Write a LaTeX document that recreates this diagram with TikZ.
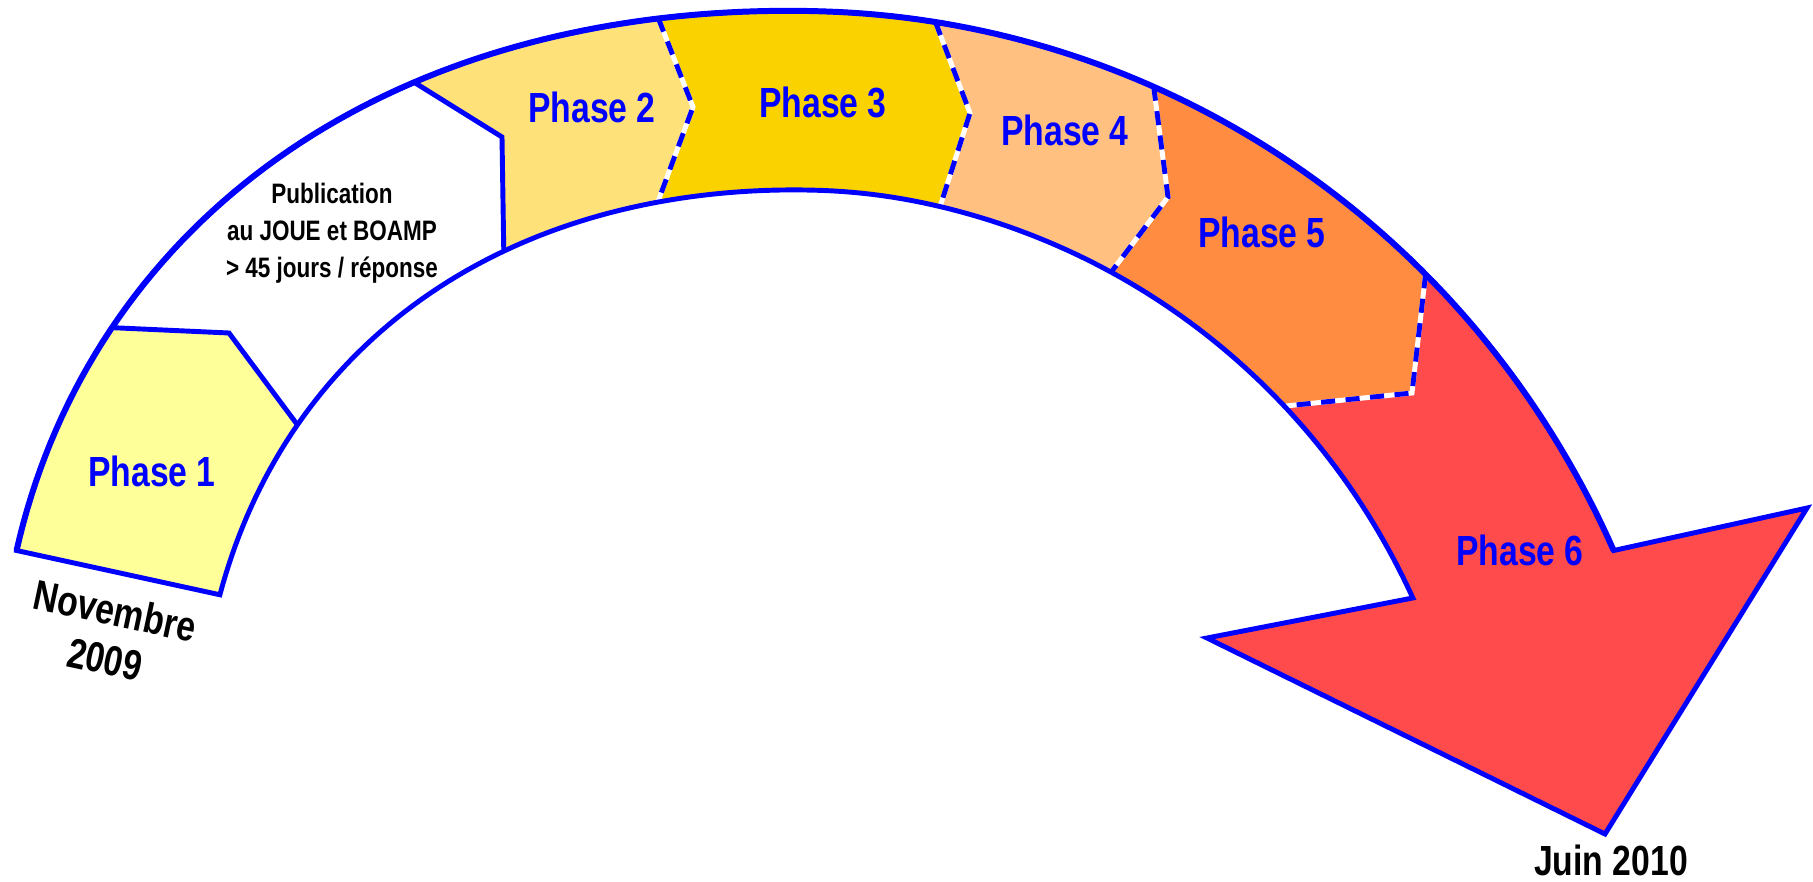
\documentclass[tikz,border=0pt]{standalone}
\usepackage{fontspec}
\setmainfont{Liberation Sans}[FakeStretch=0.8]
\newfontfamily\datefont{Liberation Sans}
\usetikzlibrary{calc}
\definecolor{phaseone}{RGB}{255,255,153}
\definecolor{phasetwo}{RGB}{255,225,122}
\definecolor{phasethree}{RGB}{250,210,0}
\definecolor{phasefour}{RGB}{255,192,128}
\definecolor{phasefive}{RGB}{255,140,64}
\definecolor{phasesix}{RGB}{255,75,75}
\definecolor{edgeblue}{RGB}{0,0,255}

% outer arc, then the whole outline of the curved arrow
\newcommand\outerarc{plot[domain=163:16.4, samples=150, variable=\a] ({800+rout(\a)*cos(\a)}, {790-rout(\a)*sin(\a)})}
\newcommand\bandpath{\outerarc -- (1807,508) -- (1605,834) -- (1207,638) -- plot[domain=17.4:161.4, samples=150, variable=\a] ({800+rin(\a)*cos(\a)}, {790-rin(\a)*sin(\a)}) -- cycle}

\begin{document}
\begin{tikzpicture}[x=0.02cm, y=-0.02cm,
    declare function={
        rout(\a) = (\a>88) ? (779+50*pow(sin(1.55*(\a-88)),2)) : (779+0.0135*pow(88-\a,2));
        rin(\a) = (\a>88) ? (600+22*pow(sin(1.8*(\a-88)),2)) : ((\a<78) ? (600+0.0115*pow(78-\a,2)) : 600);
    },
    phase/.style={font=\fontsize{24}{28}\selectfont\bfseries, text=edgeblue},
    datelabel/.style={font=\fontsize{24}{28}\selectfont\bfseries, align=center},
    note/.style={font=\fontsize{16}{21}\selectfont\bfseries, align=center},
    edge/.style={draw=edgeblue, line width=2.8pt, line join=miter},
    rim/.style={draw=edgeblue, line width=3.4pt},
    split/.style={edgeblue, line width=2.8pt, dash pattern=on 8pt off 6pt},
    splitback/.style={white, line width=2.8pt}
]
    \useasboundingbox (0,0) rectangle (1813,882);

    % Key points: where the borders meet the outer (o) and inner (i) arcs
    \coordinate (ctr) at (800,790);
    \foreach \n/\ao/\ai in {1/146.1/144, 2/118.6/118.8, 3/100.4/103.6, 4/80/76.5, 5/63.3/59, 6/39.5/38.4} {
        \coordinate (o\n) at ({800+rout(\ao)*cos(\ao)}, {790-rout(\ao)*sin(\ao)});
        \coordinate (i\n) at ({800+rin(\ai)*cos(\ai)}, {790-rin(\ai)*sin(\ai)});
    }
    \coordinate (m1) at (229,333);
    \coordinate (m2) at (502,137);
    \coordinate (m3) at (693,107);
    \coordinate (m4) at (970,113);
    \coordinate (m5) at (1168,197);
    \coordinate (m6) at (1412,393);

    % Colour of each phase
    \begin{scope}
        \clip \bandpath;
        \fill[phasesix] (0,0) rectangle (1813,882);
        \fill[phasefive] (ctr) -- (i6) -- (m6) -- (o6) -- ($(ctr)!1.5!(o6)$) -- ($(ctr)!1.5!(o5)$) -- (o5) -- (m5) -- (i5) -- cycle;
        \fill[phasefour] (ctr) -- (i5) -- (m5) -- (o5) -- ($(ctr)!1.5!(o5)$) -- ($(ctr)!1.5!(o4)$) -- (o4) -- (m4) -- (i4) -- cycle;
        \fill[phasethree] (ctr) -- (i4) -- (m4) -- (o4) -- ($(ctr)!1.5!(o4)$) -- ($(ctr)!1.5!(o3)$) -- (o3) -- (m3) -- (i3) -- cycle;
        \fill[phasetwo] (ctr) -- (i3) -- (m3) -- (o3) -- ($(ctr)!1.5!(o3)$) -- ($(ctr)!1.5!(o2)$) -- (o2) -- (m2) -- (i2) -- cycle;
        \fill[white] (ctr) -- (i2) -- (m2) -- (o2) -- ($(ctr)!1.5!(o2)$) -- ($(ctr)!1.5!(o1)$) -- (o1) -- (m1) -- (i1) -- cycle;
        \fill[phaseone] (ctr) -- (i1) -- (m1) -- (o1) -- ($(ctr)!1.5!(o1)$) -- (-300,300) -- (-300,900) -- cycle;
    \end{scope}

    % Borders between phases
    \draw[edge] (o1) -- (m1) -- (i1);
    \draw[edge] (o2) -- (m2) -- (i2);
    \foreach \k in {3,...,6} {
        \draw[splitback] (o\k) -- (m\k) -- (i\k);
        \draw[split] (o\k) -- (m\k) -- (i\k);
    }
    \draw[edge] \bandpath;
    \draw[rim] \outerarc;

    % Labels
    \node[phase] (p1) at (152,471) {Phase 1};
    \node[phase] (p2) at (592,107) {Phase 2};
    \node[phase] (p3) at (823,102) {Phase 3};
    \node[phase] (p4) at (1065,130) {Phase 4};
    \node[phase] (p5) at (1262,232) {Phase 5};
    \node[phase] (p6) at (1520,550) {Phase 6};
    \node[note] (pub) at (332,233) {Publication\\au JOUE et BOAMP\\> 45 jours / réponse};
    \node[datelabel, rotate=-12] (nov) at (110,635) {\datefont\bfseries\scalebox{0.8}[1]{Novembre}\\\datefont\bfseries\scalebox{0.8}[1]{2009}};
    \node[datelabel] (juin) at (1611,860) {Juin 2010};
\end{tikzpicture}
\end{document}
